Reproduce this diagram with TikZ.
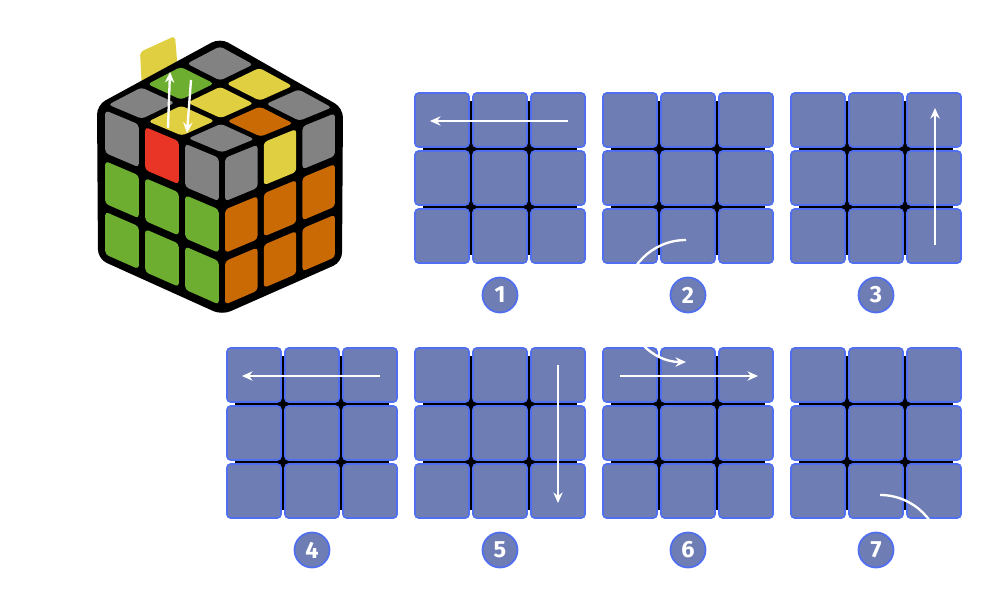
\documentclass[tikz,border=0pt]{standalone}
\usepackage{fontspec}
\newfontfamily\numfont{Fira Sans}
\usetikzlibrary{calc, arrows.meta}
\definecolor{padblue}{HTML}{6F7DB5}
\definecolor{padedge}{HTML}{4F6EF0}
\definecolor{cgray}{HTML}{828282}
\definecolor{cyellow}{HTML}{E0CF40}
\definecolor{cgreen}{HTML}{6DAE30}
\definecolor{corange}{HTML}{C96A05}
\definecolor{cred}{HTML}{E83525}
\tikzset{
	cell/.style={fill=padblue, draw=padedge, line width=1.3pt, rounded corners=3pt},
	move/.style={white, line width=2pt, -{Stealth[length=9pt, width=8pt]}},
	num/.style={circle, fill=padblue, draw=padedge, line width=1.5pt, minimum size=1.05cm, inner sep=0pt, text=white, font=\numfont\bfseries\fontsize{20}{22}\selectfont},
}
% bilinear point inside a face with corners c0 c1 c2 c3
\def\bl#1#2{($($(c0)!{#1}!(c1)$)!{#2}!($(c2)!{#1}!(c3)$)$)}
\newcommand\tile[3]{%
	\fill[#3, rounded corners=3pt] \bl{(#1+0.08)/3}{(#2+0.08)/3} -- \bl{(#1+0.92)/3}{(#2+0.08)/3} -- \bl{(#1+0.92)/3}{(#2+0.92)/3} -- \bl{(#1+0.08)/3}{(#2+0.92)/3} -- cycle;}
\newcommand\pad[3]{%
	\fill[black] (#2+8,#3+8) rectangle (#2+162,#3+162);
	\foreach \i in {0,1,2} \foreach \j in {0,1,2} \filldraw[cell] (#2+\i*58,#3+\j*58) rectangle ++(54,54);
	\coordinate (#1) at (#2+85,#3+85);}
\begin{document}
\begin{tikzpicture}[x=0.03cm, y=-0.03cm]
	\useasboundingbox (0,0) rectangle (1000,600);
	
	% cube corners
	\coordinate (T) at (220,43);
	\coordinate (L) at (102,105);
	\coordinate (R) at (338,108);
	\coordinate (F) at (222,155);
	\coordinate (Lb) at (102,257);
	\coordinate (Rb) at (338,260);
	\coordinate (Fb) at (222,310);
	
	% flipped sticker
	\fill[cyellow, rounded corners=3pt] (140,52) -- (175,36) -- (178,72) -- (142,90) -- cycle;
	
	% cube body
	\fill[black, rounded corners=8pt] ($(T)+(0,-5)$) -- ($(R)+(5,0)$) -- ($(Rb)+(4,2)$) -- ($(Fb)+(0,5)$) -- ($(Lb)+(-4,2)$) -- ($(L)+(-5,0)$) -- cycle;
	
	% top face
	\coordinate (c0) at (F); \coordinate (c1) at (R); \coordinate (c2) at (L); \coordinate (c3) at (T);
	\foreach \c [count=\k from 0] in {cgray,corange,cgray,cyellow,cyellow,cyellow,cgray,cgreen,cgray} {
		\pgfmathtruncatemacro\i{mod(\k,3)}
		\pgfmathtruncatemacro\j{div(\k,3)}
		\tile{\i}{\j}{\c}
	}
	% left face
	\coordinate (c0) at (L); \coordinate (c1) at (F); \coordinate (c2) at (Lb); \coordinate (c3) at (Fb);
	\foreach \c [count=\k from 0] in {cgray,cred,cgray,cgreen,cgreen,cgreen,cgreen,cgreen,cgreen} {
		\pgfmathtruncatemacro\i{mod(\k,3)}
		\pgfmathtruncatemacro\j{div(\k,3)}
		\tile{\i}{\j}{\c}
	}
	% right face
	\coordinate (c0) at (F); \coordinate (c1) at (R); \coordinate (c2) at (Fb); \coordinate (c3) at (Rb);
	\foreach \c [count=\k from 0] in {cgray,cyellow,cgray,corange,corange,corange,corange,corange,corange} {
		\pgfmathtruncatemacro\i{mod(\k,3)}
		\pgfmathtruncatemacro\j{div(\k,3)}
		\tile{\i}{\j}{\c}
	}
	
	% flip arrows
	\coordinate (u0) at (168,128); \coordinate (u1) at (170,72);
	\coordinate (d0) at (191,80); \coordinate (d1) at (187,133);
	\draw[move] (u0) -- (u1);
	\draw[move] (d0) -- (d1);
	
	% pads
	\pad{g1}{415}{93}
	\pad{g2}{603}{93}
	\pad{g3}{791}{93}
	\pad{g4}{227}{348}
	\pad{g5}{415}{348}
	\pad{g6}{603}{348}
	\pad{g7}{791}{348}
	
	% moves
	\coordinate (a1s) at ($(g1)+(68,-57)$); \coordinate (a1e) at ($(g1)+(-70,-57)$);
	\coordinate (a2s) at ($(g2)+(-2,62)$);
	\coordinate (a3s) at ($(g3)+(59,67)$); \coordinate (a3e) at ($(g3)+(59,-70)$);
	\coordinate (a4s) at ($(g4)+(68,-57)$); \coordinate (a4e) at ($(g4)+(-70,-57)$);
	\coordinate (a5s) at ($(g5)+(58,-68)$); \coordinate (a5e) at ($(g5)+(58,70)$);
	\coordinate (a6s) at ($(g6)+(-68,-57)$); \coordinate (a6e) at ($(g6)+(70,-57)$);
	\coordinate (a7s) at ($(g7)+(4,62)$);
	\draw[move] (a1s) -- (a1e);
	\draw[move] (a2s) arc[start angle=90, end angle=270, radius=1.83cm];
	\draw[move] (a3s) -- (a3e);
	\draw[move] (a4s) -- (a4e);
	\draw[move] (a5s) -- (a5e);
	\draw[move] (a6s) -- (a6e);
	\draw[move] (a7s) arc[start angle=90, end angle=-90, radius=1.83cm];
	
	% step numbers
	\foreach \g/\n in {g1/1,g2/2,g3/3,g4/4,g5/5,g6/6,g7/7}
		\node[num] (n\n) at ($(\g)+(0,117)$) {\n};
\end{tikzpicture}
\end{document}
